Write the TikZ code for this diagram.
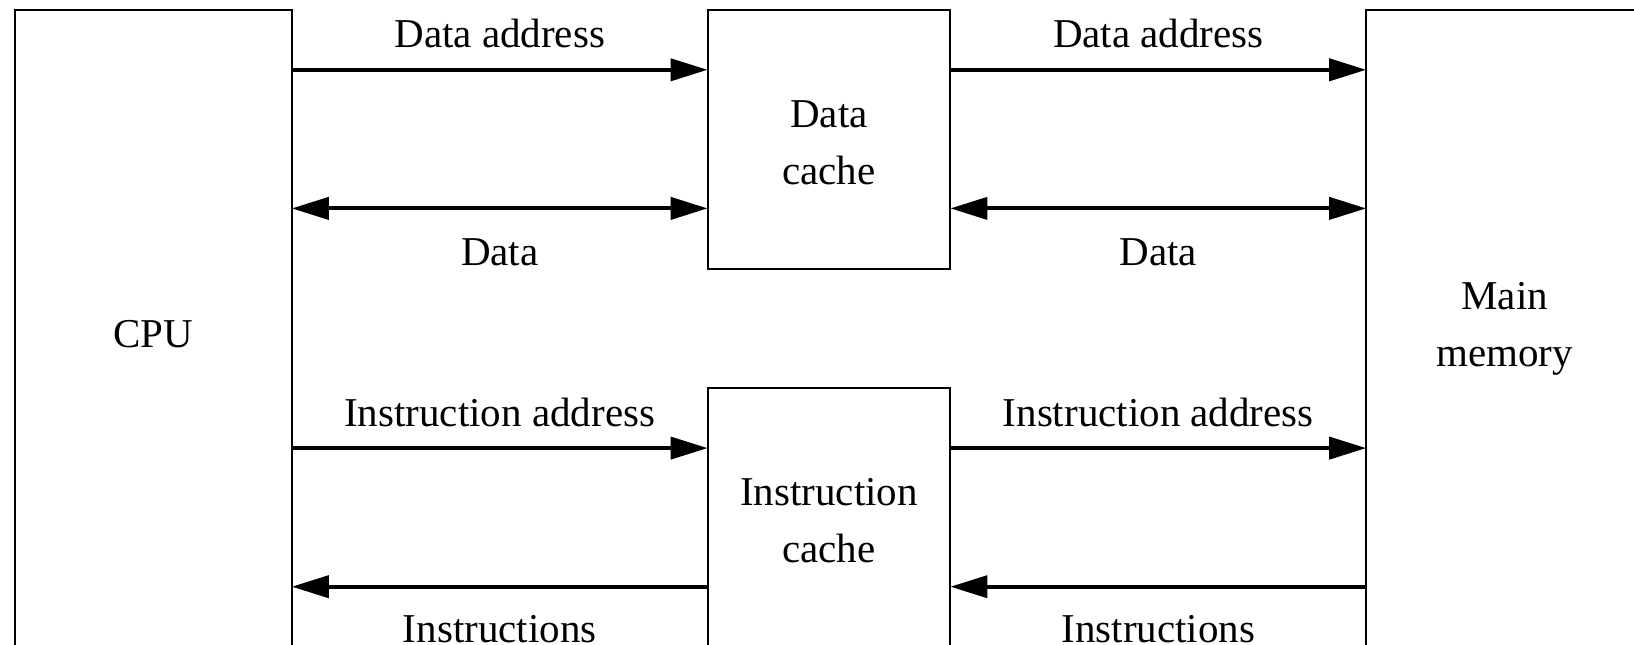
\documentclass[tikz,border=0pt]{standalone}
\usepackage{fontspec}
\setmainfont{Liberation Serif}
\usetikzlibrary{arrows.meta}
\begin{document}
\begin{tikzpicture}[x=1pt,y=-1pt,
  blk/.style={draw=black, line width=2pt, rectangle, outer sep=0pt, inner sep=0pt},
  btxt/.style={inner sep=0pt, align=center, font=\fontsize{41}{57}\selectfont},
  lbl/.style={anchor=base, inner sep=0pt, font=\fontsize{41}{57}\selectfont},
  conn/.style={line width=4pt, -{Triangle[length=37pt,width=22pt]}},
  biconn/.style={line width=4pt, {Triangle[length=37pt,width=22pt]}-{Triangle[length=37pt,width=22pt]}}]
\useasboundingbox (0,0) rectangle (1634,645);
\clip (0,0) rectangle (1634,645);
\fill[white] (0,0) rectangle (1634,645);
% blocks
\node[blk, minimum width=277.2pt, minimum height=646.6pt] (cpu) at (153.2,333.7) {};
\node[blk, minimum width=242.8pt, minimum height=258.5pt] (dc) at (829,139.65) {};
\node[blk, minimum width=242.8pt, minimum height=258.5pt] (ic) at (829,516.95) {};
\node[blk, minimum width=277.2pt, minimum height=646.6pt] (mem) at (1504.8,333.7) {};
% block texts
\node[btxt] (cput) at (cpu.center) {CPU};
\node[btxt] (dct) at ([yshift=-3.6pt]dc.center) {Data\\cache};
\node[btxt] (ict) at ([yshift=-4pt]ic.center) {Instruction\\cache};
\node[btxt] (memt) at ([yshift=5pt]mem.center) {Main\\memory};
% row levels
\coordinate (r1) at (0,69.8);
\coordinate (r2) at (0,208.4);
\coordinate (r3) at (0,448.1);
\coordinate (r4) at (0,586.7);
% connectors
\draw[conn] (cpu.east |- r1) -- (dc.west |- r1);
\draw[conn] (dc.east |- r1) -- (mem.west |- r1);
\draw[biconn] (cpu.east |- r2) -- (dc.west |- r2);
\draw[biconn] (dc.east |- r2) -- (mem.west |- r2);
\draw[conn] (cpu.east |- r3) -- (ic.west |- r3);
\draw[conn] (ic.east |- r3) -- (mem.west |- r3);
\draw[conn] (ic.west |- r4) -- (cpu.east |- r4);
\draw[conn] (mem.west |- r4) -- (ic.east |- r4);
% labels
\node[lbl] (l1) at (499.7,47.3) {Data address};
\node[lbl] (l2) at (1158.3,47.3) {Data address};
\node[lbl] (l3) at (499.7,265) {Data};
\node[lbl] (l4) at (1158.3,265) {Data};
\node[lbl] (l5) at (499.7,426) {Instruction address};
\node[lbl] (l6) at (1158.3,426) {Instruction address};
\node[lbl] (l7) at (499.7,642) {Instructions};
\node[lbl] (l8) at (1158.3,642) {Instructions};
\end{tikzpicture}
\end{document}
